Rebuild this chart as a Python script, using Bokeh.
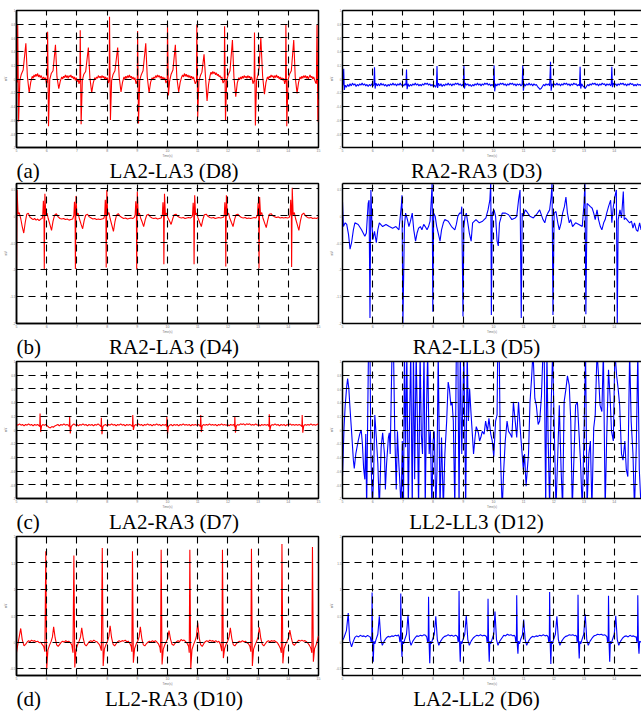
from bokeh.plotting import figure
from bokeh.layouts import column, row
from bokeh.models import Label, LinearAxis, Range1d, FixedTicker
from bokeh.embed import file_html
from bokeh.resources import INLINE

# ---------------- axis ticks ----------------
x_ticks = [5, 6, 7, 8, 9, 10, 11, 12, 13, 14, 15]
x_tick_labels = ["5", "6", "7", "8", "9", "10", "11", "12", "13", "14", "15"]
y_ticks_r1 = [-1, -0.8, -0.6, -0.4, -0.2, 0, 0.2, 0.4, 0.6, 0.8, 1]
y_tick_labels_r1 = ["-1", "-0.8", "-0.6", "-0.4", "-0.2", "0", "0.2", "0.4", "0.6", "0.8", "1"]
y_ticks_r2 = [-2, -1.5, -1, -0.5, 0, 0.5]
y_tick_labels_r2 = ["-2", "-1.5", "-1", "-0.5", "0", "0.5"]
y_ticks_r4 = [-0.5, 0, 0.5, 1, 1.5, 2]
y_tick_labels_r4 = ["-0.5", "0", "0.5", "1", "1.5", "2"]
y_range_r1 = (-1, 1)
y_range_r2 = (-2, 0.6)
y_range_r3 = (-1, 1)
y_range_r4 = (-0.63, 2.0)

letters = ["(a)", "(b)", "(c)", "(d)"]
captions_left = ["LA2-LA3 (D8)", "RA2-LA3 (D4)", "LA2-RA3 (D7)", "LL2-RA3 (D10)"]
captions_right = ["RA2-RA3 (D3)", "RA2-LL3 (D5)", "LL2-LL3 (D12)", "LA2-LL2 (D6)"]

# ---------------- signals: (time s, mV) ----------------
d8 = [(5.00, 0.03), (5.02, -0.05), (5.04, 0.79), (5.07, -0.62), (5.11, -0.02), (5.16, 0.07), (5.22, 0.13), (5.31, 0.52), (5.36, 0.04), (5.42, -0.20), (5.47, -0.05), (5.52, 0.04), (5.55, 0.01), (5.58, 0.06), (5.61, 0.03), (5.64, 0.07), (5.67, 0.04), (5.70, 0.08), (5.73, 0.03), (5.76, 0.06), (5.79, 0.02), (5.82, 0.05), (5.86, 0.00), (5.90, 0.03), (5.93, -0.01), (5.96, 0.02),
      (5.99, -0.07), (6.02, -0.03), (6.03, 0.69), (6.06, -0.69), (6.10, -0.01), (6.15, 0.08), (6.21, 0.12), (6.29, 0.50), (6.34, 0.03), (6.40, -0.14), (6.45, -0.03), (6.50, 0.03), (6.53, 0.00), (6.56, 0.04), (6.59, 0.02), (6.62, 0.06), (6.65, 0.02), (6.68, 0.05), (6.71, 0.01), (6.74, 0.05), (6.77, 0.03), (6.80, 0.06), (6.83, 0.02), (6.86, 0.04), (6.89, 0.00), (6.92, 0.03), (6.95, -0.02), (6.98, 0.02), (7.01, -0.04), (7.04, 0.00),
      (7.07, -0.07), (7.10, -0.02), (7.11, 0.71), (7.14, -0.66), (7.18, -0.02), (7.23, 0.07), (7.29, 0.11), (7.38, 0.46), (7.43, 0.02), (7.49, -0.20), (7.54, -0.06), (7.59, 0.02), (7.62, -0.01), (7.65, 0.03), (7.68, 0.01), (7.71, 0.05), (7.74, 0.02), (7.77, 0.04), (7.80, 0.01), (7.83, 0.05), (7.86, 0.02), (7.89, 0.04), (7.92, 0.00), (7.95, 0.03), (7.98, -0.01), (8.01, 0.02),
      (8.04, -0.06), (8.07, -0.02), (8.08, 0.91), (8.11, -0.60), (8.15, -0.02), (8.20, 0.07), (8.26, 0.12), (8.35, 0.46), (8.40, 0.03), (8.46, -0.19), (8.51, -0.05), (8.56, 0.03), (8.59, 0.00), (8.62, 0.04), (8.65, 0.01), (8.68, 0.05), (8.71, 0.02), (8.74, 0.06), (8.77, 0.02), (8.80, 0.04), (8.83, 0.00), (8.86, 0.03), (8.89, -0.01), (8.92, 0.02),
      (8.96, -0.07), (9.00, -0.02), (9.01, 0.70), (9.04, -0.65), (9.08, -0.02), (9.13, 0.06), (9.19, 0.12), (9.28, 0.52), (9.33, 0.03), (9.39, -0.20), (9.44, -0.05), (9.49, 0.02), (9.52, -0.01), (9.55, 0.03), (9.58, 0.01), (9.61, 0.05), (9.64, 0.02), (9.67, 0.06), (9.70, 0.03), (9.73, 0.05), (9.76, 0.01), (9.79, 0.04), (9.82, 0.00), (9.85, 0.03), (9.88, -0.01), (9.91, 0.02),
      (9.95, -0.06), (9.99, -0.02), (10.00, 0.79), (10.03, -0.24), (10.07, -0.03), (10.12, 0.07), (10.18, 0.13), (10.26, 0.50), (10.31, 0.02), (10.37, -0.19), (10.42, -0.05), (10.47, 0.03), (10.50, 0.06), (10.53, 0.03), (10.56, 0.08), (10.59, 0.04), (10.62, 0.07), (10.65, 0.03), (10.68, 0.06), (10.71, 0.02), (10.74, 0.05), (10.77, 0.01), (10.80, 0.04), (10.83, 0.00), (10.86, 0.03), (10.89, -0.02),
      (10.92, -0.07), (10.96, -0.03), (10.97, 0.79), (11.00, -0.56), (11.04, -0.03), (11.09, 0.05), (11.14, 0.10), (11.21, 0.36), (11.26, 0.02), (11.31, -0.32), (11.36, -0.08), (11.41, 0.05), (11.44, 0.10), (11.47, 0.07), (11.50, 0.11), (11.53, 0.08), (11.56, 0.10), (11.59, 0.06), (11.62, 0.09), (11.65, 0.05), (11.68, 0.07), (11.71, 0.03), (11.74, 0.05), (11.77, 0.01), (11.80, 0.03),
      (11.84, -0.06), (11.88, -0.02), (11.89, 0.77), (11.92, -0.61), (11.96, -0.02), (12.01, 0.06), (12.07, 0.12), (12.15, 0.57), (12.20, 0.03), (12.26, -0.26), (12.31, -0.06), (12.36, 0.02), (12.39, -0.01), (12.42, 0.03), (12.45, 0.00), (12.48, 0.04), (12.51, 0.01), (12.54, 0.05), (12.57, 0.02), (12.60, 0.04), (12.63, 0.01), (12.66, 0.05), (12.69, 0.02), (12.72, 0.04), (12.75, 0.00), (12.78, 0.03), (12.81, -0.01),
      (12.83, -0.07), (12.87, -0.02), (12.88, 0.68), (12.91, -0.68), (12.95, -0.02), (13.00, 0.07), (13.03, 0.15), (13.09, 0.60), (13.15, 0.04), (13.21, -0.22), (13.26, -0.05), (13.31, 0.03), (13.34, 0.00), (13.37, 0.04), (13.40, 0.02), (13.43, 0.06), (13.46, 0.03), (13.49, 0.05), (13.52, 0.01), (13.55, 0.05), (13.58, 0.02), (13.61, 0.06), (13.64, 0.02), (13.67, 0.04), (13.70, 0.00), (13.73, 0.03), (13.76, -0.01), (13.79, 0.02), (13.82, -0.02), (13.85, 0.01),
      (13.88, -0.07), (13.91, -0.02), (13.92, 0.80), (13.95, -0.69), (13.99, -0.02), (14.04, 0.07), (14.10, 0.12), (14.18, 0.57), (14.23, 0.03), (14.29, -0.21), (14.34, -0.05), (14.39, 0.03), (14.42, 0.00), (14.45, 0.04), (14.48, 0.01), (14.51, 0.05), (14.54, 0.02), (14.57, 0.05), (14.60, 0.01), (14.63, 0.04), (14.66, 0.00), (14.69, 0.03), (14.72, 0.06), (14.75, 0.02), (14.78, 0.04), (14.81, 0.00), (14.84, 0.03), (14.87, -0.01), (14.90, -0.05),
      (14.93, -0.07), (14.95, 0.79), (14.98, -0.62), (15.00, -0.30)]

d3 = [(5.00, -0.10), (5.02, -0.07), (5.04, 0.15), (5.06, -0.16), (5.09, -0.09), (5.13, -0.12), (5.17, -0.08), (5.21, -0.11), (5.25, -0.07), (5.29, -0.10), (5.33, -0.06), (5.37, -0.09), (5.41, -0.07), (5.45, -0.11), (5.49, -0.08), (5.53, -0.10), (5.57, -0.07), (5.61, -0.09), (5.65, -0.06), (5.69, -0.09), (5.73, -0.07), (5.77, -0.10), (5.81, -0.08), (5.85, -0.11), (5.89, -0.08), (5.93, -0.10), (5.97, -0.07), (6.01, -0.10), (6.04, -0.08),
      (6.06, 0.17), (6.08, -0.14), (6.11, -0.06), (6.15, -0.10), (6.19, -0.07), (6.23, -0.10), (6.27, -0.06), (6.31, -0.09), (6.35, -0.07), (6.39, -0.10), (6.43, -0.08), (6.47, -0.11), (6.51, -0.08), (6.55, -0.10), (6.59, -0.07), (6.63, -0.09), (6.67, -0.06), (6.71, -0.09), (6.75, -0.07), (6.79, -0.10), (6.83, -0.07), (6.87, -0.09), (6.91, -0.06), (6.95, -0.09), (6.99, -0.08), (7.03, -0.10), (7.07, -0.07), (7.10, -0.09),
      (7.12, 0.14), (7.14, -0.15), (7.17, -0.07), (7.21, -0.11), (7.25, -0.08), (7.29, -0.10), (7.33, -0.07), (7.37, -0.09), (7.41, -0.06), (7.45, -0.09), (7.49, -0.07), (7.53, -0.10), (7.57, -0.08), (7.61, -0.10), (7.65, -0.07), (7.69, -0.09), (7.73, -0.06), (7.77, -0.08), (7.81, -0.06), (7.85, -0.09), (7.89, -0.07), (7.93, -0.10), (7.97, -0.08), (8.01, -0.11), (8.05, -0.09), (8.08, -0.12), (8.11, -0.09),
      (8.13, 0.19), (8.15, -0.13), (8.18, -0.06), (8.22, -0.10), (8.26, -0.07), (8.30, -0.11), (8.34, -0.08), (8.38, -0.10), (8.42, -0.07), (8.46, -0.09), (8.50, -0.06), (8.54, -0.09), (8.58, -0.07), (8.62, -0.10), (8.66, -0.07), (8.70, -0.09), (8.74, -0.06), (8.78, -0.08), (8.82, -0.06), (8.86, -0.09), (8.90, -0.07), (8.94, -0.10), (8.98, -0.08), (9.00, -0.10),
      (9.02, 0.19), (9.04, -0.14), (9.07, -0.06), (9.11, -0.09), (9.15, -0.07), (9.19, -0.10), (9.23, -0.08), (9.27, -0.11), (9.31, -0.08), (9.35, -0.10), (9.39, -0.07), (9.43, -0.09), (9.47, -0.06), (9.51, -0.09), (9.55, -0.07), (9.59, -0.10), (9.63, -0.07), (9.67, -0.09), (9.71, -0.06), (9.75, -0.08), (9.79, -0.06), (9.83, -0.09), (9.87, -0.07), (9.91, -0.10), (9.95, -0.08), (10.00, -0.10),
      (10.02, 0.20), (10.04, -0.18), (10.07, -0.07), (10.11, -0.10), (10.15, -0.07), (10.19, -0.09), (10.23, -0.06), (10.27, -0.08), (10.31, -0.06), (10.35, -0.09), (10.39, -0.07), (10.43, -0.10), (10.47, -0.07), (10.51, -0.09), (10.55, -0.06), (10.59, -0.08), (10.63, -0.06), (10.67, -0.09), (10.71, -0.07), (10.75, -0.10), (10.79, -0.07), (10.83, -0.09), (10.87, -0.07), (10.91, -0.10), (10.95, -0.08),
      (10.97, 0.20), (10.99, -0.17), (11.02, -0.07), (11.06, -0.10), (11.10, -0.07), (11.14, -0.09), (11.18, -0.06), (11.22, -0.09), (11.26, -0.07), (11.30, -0.10), (11.34, -0.07), (11.38, -0.09), (11.42, -0.08), (11.46, -0.11), (11.50, -0.13), (11.54, -0.15), (11.58, -0.14), (11.62, -0.11), (11.66, -0.08), (11.70, -0.10), (11.74, -0.07), (11.78, -0.09), (11.82, -0.07), (11.86, -0.10),
      (11.89, 0.25), (11.91, -0.17), (11.94, -0.07), (11.98, -0.10), (12.02, -0.07), (12.06, -0.09), (12.10, -0.06), (12.14, -0.09), (12.18, -0.07), (12.22, -0.10), (12.26, -0.07), (12.30, -0.09), (12.34, -0.06), (12.38, -0.08), (12.42, -0.06), (12.46, -0.09), (12.50, -0.07), (12.54, -0.10), (12.58, -0.07), (12.62, -0.09), (12.66, -0.06), (12.70, -0.08), (12.74, -0.07), (12.78, -0.10), (12.82, -0.08), (12.85, -0.10),
      (12.87, 0.18), (12.89, -0.14), (12.92, -0.07), (12.96, -0.10), (13.00, -0.12), (13.04, -0.14), (13.08, -0.11), (13.12, -0.08), (13.16, -0.10), (13.20, -0.07), (13.24, -0.09), (13.28, -0.06), (13.32, -0.08), (13.36, -0.06), (13.40, -0.09), (13.44, -0.07), (13.48, -0.10), (13.52, -0.07), (13.56, -0.09), (13.60, -0.06), (13.64, -0.08), (13.68, -0.07), (13.72, -0.10), (13.76, -0.07), (13.80, -0.09), (13.84, -0.07), (13.88, -0.10), (13.90, -0.08),
      (13.92, 0.18), (13.94, -0.12), (13.97, -0.06), (14.01, -0.09), (14.05, -0.07), (14.09, -0.10), (14.13, -0.07), (14.17, -0.09), (14.21, -0.06), (14.25, -0.08), (14.29, -0.06), (14.33, -0.09), (14.37, -0.07), (14.41, -0.10), (14.45, -0.07), (14.49, -0.09), (14.53, -0.06), (14.57, -0.08), (14.61, -0.07), (14.65, -0.10), (14.69, -0.08), (14.73, -0.10), (14.77, -0.07), (14.81, -0.09), (14.85, -0.08), (14.90, -0.10)]

d4 = [(5.00, -1.00), (5.02, 0.48), (5.05, 0.03), (5.09, 0.06), (5.14, -0.05), (5.19, -0.20), (5.24, -0.32), (5.29, -0.12), (5.34, 0.03), (5.39, 0.05), (5.45, -0.03), (5.50, -0.05), (5.55, -0.07), (5.60, -0.05), (5.65, -0.08), (5.70, -0.06), (5.75, -0.09), (5.80, -0.06), (5.85, -0.05),
      (5.87, 0.02), (5.89, 0.28), (5.91, 0.08), (5.92, -0.99), (5.94, 0.41), (5.97, 0.01), (6.01, 0.05), (6.05, -0.05), (6.11, -0.17), (6.16, -0.27), (6.21, -0.10), (6.26, 0.01), (6.32, 0.04), (6.38, -0.02), (6.44, -0.05), (6.50, -0.06), (6.56, -0.05), (6.62, -0.07), (6.68, -0.06), (6.74, -0.08), (6.80, -0.07), (6.86, -0.06),
      (6.90, 0.01), (6.92, 0.26), (6.94, 0.06), (6.95, -0.99), (6.97, 0.37), (7.00, 0.01), (7.04, 0.05), (7.08, -0.05), (7.14, -0.16), (7.19, -0.24), (7.24, -0.09), (7.29, 0.01), (7.35, 0.03), (7.41, -0.02), (7.47, -0.04), (7.53, -0.06), (7.59, -0.05), (7.65, -0.07), (7.71, -0.06), (7.77, -0.07), (7.83, -0.06), (7.89, -0.05),
      (7.92, 0.01), (7.94, 0.30), (7.96, 0.08), (7.97, -0.96), (7.99, 0.48), (8.02, 0.02), (8.06, 0.06), (8.10, -0.05), (8.16, -0.18), (8.21, -0.29), (8.26, -0.11), (8.31, 0.01), (8.37, 0.04), (8.43, -0.01), (8.49, -0.03), (8.55, -0.05), (8.61, -0.04), (8.67, -0.06), (8.73, -0.05), (8.79, -0.04), (8.85, -0.05), (8.90, -0.03),
      (8.93, 0.02), (8.95, 0.27), (8.97, 0.07), (8.98, -0.99), (9.00, 0.45), (9.03, 0.02), (9.07, 0.05), (9.11, -0.04), (9.17, -0.13), (9.21, -0.20), (9.26, -0.08), (9.31, 0.01), (9.37, 0.03), (9.43, -0.02), (9.49, -0.04), (9.55, -0.05), (9.61, -0.04), (9.67, -0.06), (9.73, -0.05), (9.79, -0.04),
      (9.83, 0.02), (9.85, 0.25), (9.87, 0.06), (9.88, -0.90), (9.90, 0.41), (9.93, 0.02), (9.97, 0.05), (10.01, -0.03), (10.07, -0.10), (10.12, -0.16), (10.17, -0.06), (10.22, 0.02), (10.28, 0.03), (10.34, -0.01), (10.40, -0.03), (10.46, -0.04), (10.52, -0.03), (10.58, -0.05), (10.64, -0.04), (10.70, -0.03), (10.76, -0.04), (10.81, -0.02),
      (10.83, 0.02), (10.85, 0.24), (10.87, 0.06), (10.88, -0.90), (10.90, 0.38), (10.93, 0.02), (10.97, 0.05), (11.01, -0.04), (11.07, -0.13), (11.12, -0.20), (11.17, -0.07), (11.22, 0.02), (11.28, 0.03), (11.34, -0.01), (11.40, -0.03), (11.46, -0.04), (11.52, -0.03), (11.58, -0.05), (11.64, -0.04), (11.70, -0.03), (11.76, -0.04), (11.82, -0.03), (11.86, -0.02),
      (11.88, 0.02), (11.90, 0.25), (11.92, 0.06), (11.93, -0.94), (11.95, 0.38), (11.98, 0.02), (12.02, 0.05), (12.06, -0.04), (12.12, -0.13), (12.17, -0.20), (12.22, -0.07), (12.27, 0.02), (12.33, 0.03), (12.39, -0.01), (12.45, -0.03), (12.51, -0.04), (12.57, -0.03), (12.63, -0.05), (12.69, -0.04), (12.75, -0.05), (12.81, -0.04), (12.87, -0.03), (12.93, -0.04),
      (12.98, 0.02), (13.00, 0.24), (13.02, 0.06), (13.03, -0.98), (13.05, 0.35), (13.08, 0.02), (13.12, 0.06), (13.16, -0.04), (13.22, -0.14), (13.27, -0.22), (13.32, -0.08), (13.37, 0.03), (13.43, 0.04), (13.49, 0.00), (13.55, -0.02), (13.61, -0.03), (13.67, -0.02), (13.73, -0.04), (13.79, -0.03), (13.85, -0.04), (13.91, -0.03), (13.97, -0.04), (14.03, -0.03),
      (14.06, 0.02), (14.08, 0.30), (14.10, 0.08), (14.11, -0.95), (14.13, 0.52), (14.16, 0.02), (14.20, 0.06), (14.24, -0.05), (14.30, -0.17), (14.35, -0.27), (14.40, -0.10), (14.45, 0.02), (14.51, 0.05), (14.57, 0.00), (14.63, -0.03), (14.69, -0.04), (14.75, -0.03), (14.81, -0.05), (14.87, -0.04), (14.93, -0.05), (15.00, -0.03)]

d5 = [(5.00, 0.26), (5.03, -0.20), (5.09, -0.13), (5.14, -0.16), (5.20, -0.35), (5.25, -0.62), (5.30, -0.50), (5.36, -0.26), (5.41, -0.13), (5.52, -0.16), (5.63, -0.26), (5.74, -0.38), (5.79, -0.32), (5.85, 0.23), (5.88, 0.29), (5.91, -1.90), (5.94, 0.48), (5.98, -0.20), (6.01, -0.44), (6.06, -0.29), (6.12, -0.50), (6.17, -0.26), (6.22, -0.13), (6.33, -0.20), (6.44, -0.16), (6.55, -0.20), (6.66, -0.23), (6.77, -0.20), (6.87, -0.26), (6.95, 0.20), (6.97, 0.38), (7.00, -2.05),
      (7.05, -0.20), (7.09, 0.05), (7.15, -0.07), (7.20, -0.20), (7.25, -0.10), (7.31, 0.05), (7.36, -0.26), (7.42, -0.47), (7.47, -0.32), (7.52, -0.23), (7.58, -0.20), (7.63, -0.26), (7.69, -0.16), (7.74, -0.20), (7.80, -0.26), (7.85, -0.20), (7.90, -0.10), (7.94, 0.29), (7.97, 0.62), (7.99, -1.78),
      (8.02, 0.05), (8.07, -0.01), (8.12, -0.20), (8.17, -0.32), (8.23, -0.47), (8.28, -0.26), (8.34, -0.13), (8.39, -0.07), (8.50, -0.10), (8.61, -0.20), (8.72, -0.26), (8.77, -0.16), (8.82, -0.01), (8.88, 0.05), (8.93, 0.05), (8.95, 0.17), (8.99, -1.87),
      (9.02, -0.20), (9.06, -0.01), (9.10, 0.05), (9.15, -0.13), (9.20, -0.32), (9.26, -0.47), (9.31, -0.13), (9.42, -0.07), (9.53, -0.13), (9.64, -0.10), (9.75, -0.04), (9.82, 0.11), (9.88, 0.29), (9.91, 0.62), (9.93, -1.84),
      (9.96, 0.05), (10.02, 0.11), (10.07, -0.01), (10.12, -0.47), (10.16, -0.56), (10.20, -0.13), (10.29, 0.05), (10.40, 0.05), (10.50, 0.02), (10.61, -0.07), (10.72, -0.04), (10.77, -0.01), (10.83, 0.29), (10.88, 0.48), (10.92, -1.90),
      (10.95, 0.05), (10.99, -0.01), (11.05, 0.11), (11.10, 0.08), (11.21, -0.01), (11.32, -0.04), (11.42, 0.02), (11.53, 0.11), (11.64, -0.07), (11.70, -0.13), (11.75, -0.01), (11.80, 0.05), (11.86, 0.11), (11.91, 0.35), (11.94, 0.62), (11.97, -1.84),
      (12.01, 0.05), (12.07, 0.08), (12.13, -0.13), (12.18, -0.26), (12.24, -0.13), (12.29, 0.05), (12.35, 0.17), (12.40, 0.35), (12.45, 0.05), (12.51, -0.13), (12.56, -0.07), (12.62, -0.20), (12.72, -0.13), (12.83, -0.16), (12.94, -0.20), (13.00, 0.23), (13.03, 0.65), (13.06, -1.83),
      (13.10, 0.23), (13.16, 0.20), (13.21, 0.17), (13.27, 0.14), (13.32, 0.05), (13.37, -0.07), (13.43, 0.11), (13.48, -0.07), (13.54, -0.20), (13.59, -0.26), (13.65, -0.13), (13.70, -0.07), (13.75, 0.05), (13.81, 0.17), (13.88, 0.29), (13.92, -0.13), (13.97, 0.17), (14.02, 0.35), (14.07, 0.48), (14.10, -2.05),
      (14.13, -0.07), (14.19, 0.11), (14.24, -0.04), (14.30, 0.45), (14.33, -0.07), (14.37, -0.04), (14.46, -0.10), (14.51, -0.13), (14.57, -0.10), (14.62, -0.23), (14.67, -0.13), (14.73, -0.26), (14.78, -0.29), (14.84, -0.13), (14.89, -0.26), (14.95, -0.20)]

d7 = [(5.00, 0.08), (5.05, 0.07), (5.10, 0.09), (5.15, 0.07), (5.20, 0.08), (5.25, 0.06), (5.30, 0.08), (5.35, 0.07), (5.40, 0.09), (5.45, 0.07), (5.50, 0.08), (5.55, 0.06), (5.60, 0.08), (5.65, 0.07), (5.70, 0.08), (5.75, 0.06),
      (5.77, 0.05), (5.78, 0.24), (5.80, -0.03), (5.83, 0.06), (5.87, 0.08), (5.92, 0.07), (5.97, 0.08), (6.02, 0.06), (6.07, 0.04), (6.12, 0.03), (6.17, 0.05), (6.22, 0.04), (6.27, 0.06), (6.32, 0.07), (6.37, 0.08), (6.42, 0.06), (6.47, 0.08), (6.52, 0.07), (6.57, 0.09), (6.62, 0.07), (6.67, 0.08), (6.72, 0.07),
      (6.75, 0.05), (6.76, 0.19), (6.78, -0.05), (6.81, 0.05), (6.85, 0.07), (6.90, 0.09), (6.95, 0.07), (7.00, 0.08), (7.05, 0.06), (7.10, 0.08), (7.15, 0.07), (7.20, 0.09), (7.25, 0.07), (7.30, 0.08), (7.35, 0.06), (7.40, 0.08), (7.45, 0.07), (7.50, 0.08), (7.55, 0.06), (7.60, 0.08), (7.65, 0.07), (7.70, 0.09), (7.75, 0.07),
      (7.80, 0.05), (7.81, 0.18), (7.83, -0.06), (7.86, 0.05), (7.90, 0.07), (7.95, 0.08), (8.00, 0.06), (8.05, 0.08), (8.10, 0.07), (8.15, 0.09), (8.20, 0.07), (8.25, 0.08), (8.30, 0.06), (8.35, 0.08), (8.40, 0.07), (8.45, 0.09), (8.50, 0.07), (8.55, 0.08), (8.60, 0.06), (8.65, 0.08), (8.70, 0.07), (8.75, 0.08), (8.80, 0.07),
      (8.84, 0.05), (8.85, 0.22), (8.87, 0.00), (8.90, 0.06), (8.94, 0.08), (8.99, 0.07), (9.04, 0.09), (9.09, 0.07), (9.14, 0.08), (9.19, 0.06), (9.24, 0.08), (9.29, 0.07), (9.34, 0.09), (9.39, 0.07), (9.44, 0.08), (9.49, 0.06), (9.54, 0.08), (9.59, 0.07), (9.64, 0.09), (9.69, 0.07), (9.74, 0.08), (9.79, 0.06), (9.84, 0.08), (9.89, 0.07), (9.94, 0.08),
      (9.97, 0.05), (9.98, 0.19), (10.00, -0.06), (10.03, 0.05), (10.07, 0.07), (10.12, 0.08), (10.17, 0.06), (10.22, 0.08), (10.27, 0.07), (10.32, 0.08), (10.37, 0.06), (10.42, 0.08), (10.47, 0.07), (10.52, 0.09), (10.57, 0.07), (10.62, 0.08), (10.67, 0.07), (10.72, 0.08), (10.77, 0.06), (10.82, 0.08), (10.87, 0.07), (10.92, 0.08), (10.97, 0.07), (11.02, 0.08), (11.06, 0.07),
      (11.09, 0.05), (11.10, 0.22), (11.12, -0.03), (11.15, 0.06), (11.19, 0.08), (11.24, 0.07), (11.29, 0.08), (11.34, 0.07), (11.39, 0.09), (11.44, 0.07), (11.49, 0.08), (11.54, 0.07), (11.59, 0.08), (11.64, 0.06), (11.69, 0.08), (11.74, 0.07), (11.79, 0.09), (11.84, 0.07), (11.89, 0.08), (11.94, 0.07), (11.99, 0.08), (12.04, 0.06), (12.09, 0.08), (12.14, 0.07), (12.19, 0.08),
      (12.22, 0.05), (12.23, 0.19), (12.25, -0.04), (12.28, 0.06), (12.32, 0.08), (12.37, 0.07), (12.42, 0.09), (12.47, 0.08), (12.52, 0.09), (12.57, 0.07), (12.62, 0.09), (12.67, 0.08), (12.72, 0.09), (12.77, 0.07), (12.82, 0.08), (12.87, 0.07), (12.92, 0.09), (12.97, 0.07), (13.02, 0.08), (13.07, 0.06), (13.12, 0.08), (13.17, 0.07), (13.22, 0.08), (13.27, 0.07), (13.32, 0.08),
      (13.36, 0.05), (13.37, 0.23), (13.39, -0.01), (13.42, 0.06), (13.46, 0.08), (13.51, 0.07), (13.56, 0.09), (13.61, 0.07), (13.66, 0.08), (13.71, 0.06), (13.76, 0.08), (13.81, 0.07), (13.86, 0.08), (13.91, 0.06), (13.96, 0.08), (14.01, 0.07), (14.06, 0.09), (14.11, 0.07), (14.16, 0.08), (14.21, 0.07), (14.26, 0.08), (14.31, 0.07), (14.36, 0.08), (14.41, 0.07),
      (14.45, 0.05), (14.46, 0.22), (14.48, -0.04), (14.51, 0.06), (14.55, 0.08), (14.60, 0.07), (14.65, 0.08), (14.70, 0.07), (14.75, 0.09), (14.80, 0.07), (14.85, 0.08), (14.90, 0.07), (14.95, 0.08), (15.00, 0.09)]

d12 = [(5.00, -0.68), (5.05, 0.03), (5.09, 0.36), (5.14, 0.64), (5.17, 0.75), (5.21, 0.60), (5.25, 0.31), (5.30, -0.02), (5.36, -0.44), (5.39, -0.56), (5.44, -0.35), (5.52, -0.16), (5.57, -0.06), (5.62, 0.00), (5.66, -0.21), (5.70, -0.56), (5.74, -0.72), (5.77, -0.06), (5.80, -1.15), (5.86, 1.15), (5.91, 1.15), (5.94, -0.35), (5.99, -1.15),
       (6.03, -0.68), (6.07, 0.22), (6.12, -0.11), (6.17, -0.49), (6.22, -1.15), (6.28, -0.25), (6.33, -0.04), (6.39, -0.35), (6.42, -0.87), (6.46, -0.49), (6.52, -0.11), (6.55, -0.04), (6.58, -0.35), (6.64, 1.15), (6.69, 1.15), (6.73, -0.02), (6.78, -0.87), (6.82, -0.02), (6.85, -0.35), (6.90, -0.77), (6.94, -1.15), (6.98, -0.16),
       (7.02, -1.15), (7.05, 1.15), (7.09, -0.25), (7.13, 1.15), (7.18, -1.15), (7.22, 0.13), (7.26, 1.15), (7.31, -1.15), (7.35, 1.15), (7.39, -0.72), (7.44, 1.15), (7.48, 0.13), (7.52, -1.15), (7.57, 1.15), (7.61, -0.06), (7.65, -0.35), (7.70, 1.15), (7.74, -1.15), (7.78, 0.22), (7.82, 1.15), (7.87, -0.35), (7.91, -0.02), (7.96, -1.15),
       (8.00, -0.16), (8.04, -0.02), (8.09, -1.15), (8.13, -0.58), (8.17, 1.15), (8.23, -1.15), (8.28, -0.11), (8.34, -1.15), (8.39, -0.35), (8.45, 0.13), (8.50, 0.70), (8.54, 0.60), (8.59, 0.36), (8.63, 0.41), (8.67, 0.13), (8.72, -1.15), (8.77, 1.15), (8.82, 1.15), (8.86, -1.15), (8.90, 1.15), (8.95, -0.35),
       (9.02, 1.15), (9.08, -1.15), (9.13, 1.15), (9.17, 0.13), (9.21, 0.60), (9.26, 0.22), (9.30, -0.06), (9.34, -0.35), (9.39, -0.11), (9.43, 0.05), (9.50, -0.04), (9.54, -0.16), (9.58, -0.11), (9.63, -0.02), (9.69, -0.06), (9.74, 0.13), (9.80, -0.02), (9.85, 0.17), (9.91, -0.06), (9.96, -0.16),
       (10.01, -0.39), (10.07, 0.13), (10.12, 0.22), (10.14, 1.15), (10.19, 1.15), (10.23, -0.35), (10.29, -1.15), (10.34, -0.58), (10.39, -0.16), (10.45, 0.13), (10.50, -0.02), (10.56, -0.06), (10.61, -0.11), (10.66, 0.41), (10.72, 0.13), (10.77, -0.11), (10.83, 0.41), (10.88, 0.05), (10.94, -0.30), (10.99, -0.58),
       (11.03, -0.35), (11.08, -0.82), (11.12, -0.58), (11.16, -0.35), (11.21, 0.41), (11.26, 0.74), (11.31, 1.15), (11.37, 0.46), (11.42, 0.36), (11.48, 0.08), (11.53, 0.13), (11.59, 0.50), (11.64, 1.15), (11.68, 1.15), (11.73, -1.15), (11.77, 1.15), (11.81, -0.11), (11.86, -1.15), (11.91, 0.36), (11.96, 1.15),
       (12.02, -0.11), (12.07, -1.15), (12.13, -0.35), (12.18, 0.36), (12.24, -0.58), (12.29, -1.15), (12.34, 0.41), (12.40, 0.60), (12.45, 0.79), (12.51, 0.65), (12.56, 0.13), (12.61, -1.15), (12.67, -0.35), (12.72, 0.36), (12.78, 0.41), (12.83, -0.02), (12.88, -0.44), (12.94, -1.15), (12.99, -0.25),
       (13.05, 1.15), (13.10, -1.15), (13.16, -0.35), (13.21, -0.16), (13.26, -1.15), (13.32, 0.03), (13.37, 0.22), (13.43, 1.15), (13.48, 0.79), (13.53, 0.36), (13.59, 0.27), (13.64, 1.15), (13.70, -1.15), (13.75, -0.11), (13.81, 0.88), (13.86, 0.50), (13.91, -0.02), (13.97, -0.16),
       (14.02, 1.15), (14.08, 0.79), (14.13, 0.60), (14.18, 0.36), (14.24, -0.35), (14.29, -0.44), (14.35, -0.16), (14.40, -0.58), (14.45, -0.68), (14.51, 1.15), (14.56, 0.13), (14.62, -0.35), (14.67, -1.15), (14.73, -0.25), (14.78, 1.15), (14.83, -0.58), (14.89, -1.15)]

d10 = [(5.00, -0.20), (5.04, -0.05), (5.09, 0.10), (5.14, 0.26), (5.19, 0.05), (5.25, -0.07), (5.30, -0.04), (5.35, 0.00), (5.40, 0.03), (5.45, 0.01), (5.50, 0.04), (5.55, 0.02), (5.60, 0.03), (5.65, 0.01), (5.70, 0.02), (5.75, -0.01), (5.80, 0.00), (5.85, -0.04), (5.90, -0.08), (5.94, -0.18),
       (5.97, 1.72), (6.00, -0.51), (6.04, -0.15), (6.09, -0.06), (6.15, 0.02), (6.19, 0.10), (6.23, 0.29), (6.28, 0.08), (6.33, -0.05), (6.38, -0.08), (6.43, -0.04), (6.48, 0.00), (6.53, 0.02), (6.58, 0.00), (6.63, 0.03), (6.68, 0.01), (6.73, 0.02), (6.78, -0.01), (6.83, -0.05), (6.87, -0.20),
       (6.90, 1.64), (6.93, -0.48), (6.97, -0.14), (7.02, -0.05), (7.08, 0.03), (7.12, 0.10), (7.16, 0.27), (7.21, 0.07), (7.26, -0.04), (7.31, -0.07), (7.36, -0.03), (7.41, 0.01), (7.46, 0.03), (7.51, 0.01), (7.56, 0.04), (7.61, 0.02), (7.66, 0.01), (7.71, -0.02), (7.76, -0.06), (7.81, -0.16),
       (7.84, 1.78), (7.87, -0.45), (7.91, -0.13), (7.96, -0.05), (8.02, 0.03), (8.06, 0.11), (8.10, 0.31), (8.15, 0.08), (8.20, -0.04), (8.25, -0.07), (8.30, -0.03), (8.35, 0.01), (8.40, 0.03), (8.45, 0.01), (8.50, 0.03), (8.55, 0.02), (8.60, 0.04), (8.65, 0.01), (8.70, 0.02), (8.75, -0.02), (8.80, -0.08), (8.82, -0.18),
       (8.84, 1.72), (8.87, -0.39), (8.91, -0.12), (8.96, -0.04), (9.02, 0.03), (9.06, 0.10), (9.10, 0.29), (9.15, 0.07), (9.20, -0.05), (9.25, -0.07), (9.30, -0.03), (9.35, 0.00), (9.40, 0.02), (9.45, 0.00), (9.50, 0.03), (9.55, 0.01), (9.60, 0.03), (9.65, 0.00), (9.70, -0.03), (9.75, -0.10), (9.77, -0.20),
       (9.79, 1.75), (9.82, -0.42), (9.86, -0.13), (9.91, -0.05), (9.97, 0.02), (10.01, 0.08), (10.05, 0.22), (10.10, 0.06), (10.15, -0.04), (10.20, -0.06), (10.25, -0.02), (10.30, 0.01), (10.35, 0.03), (10.40, 0.01), (10.45, 0.05), (10.50, 0.03), (10.55, 0.04), (10.60, 0.01), (10.65, -0.02), (10.70, -0.08), (10.72, -0.20),
       (10.74, 1.75), (10.77, -0.51), (10.81, -0.14), (10.86, -0.05), (10.92, 0.04), (10.96, 0.12), (11.00, 0.37), (11.05, 0.08), (11.10, -0.05), (11.15, -0.08), (11.20, -0.03), (11.25, 0.01), (11.30, 0.03), (11.35, 0.01), (11.40, 0.04), (11.45, 0.02), (11.50, 0.03), (11.55, 0.01), (11.60, 0.03), (11.65, 0.00), (11.70, 0.02), (11.75, -0.04), (11.80, -0.17),
       (11.82, 1.75), (11.85, -0.30), (11.89, -0.12), (11.94, -0.04), (12.00, 0.03), (12.04, 0.10), (12.08, 0.27), (12.13, 0.07), (12.18, -0.05), (12.23, -0.07), (12.28, -0.03), (12.33, 0.00), (12.38, 0.02), (12.43, 0.00), (12.48, 0.03), (12.53, 0.01), (12.58, 0.02), (12.63, -0.01), (12.68, -0.03), (12.73, -0.08), (12.76, -0.18),
       (12.78, 1.77), (12.81, -0.45), (12.85, -0.13), (12.90, -0.05), (12.96, 0.03), (13.00, 0.10), (13.04, 0.28), (13.09, 0.07), (13.14, -0.04), (13.19, -0.07), (13.24, -0.03), (13.29, 0.01), (13.34, 0.03), (13.39, 0.01), (13.44, 0.03), (13.49, 0.02), (13.54, 0.03), (13.59, 0.01), (13.64, -0.01), (13.69, -0.06), (13.74, -0.12), (13.77, -0.20),
       (13.79, 1.86), (13.82, -0.40), (13.86, -0.12), (13.91, -0.04), (13.97, 0.03), (14.01, 0.09), (14.05, 0.23), (14.10, 0.08), (14.15, -0.03), (14.20, -0.06), (14.25, -0.02), (14.30, 0.01), (14.35, 0.04), (14.40, 0.02), (14.45, 0.04), (14.50, 0.02), (14.55, 0.03), (14.60, 0.01), (14.65, -0.02), (14.70, -0.06), (14.75, -0.12), (14.78, -0.20),
       (14.80, 1.80), (14.83, -0.37), (14.87, -0.12), (14.92, -0.05), (14.97, 0.05), (15.00, 0.12)]

d6 = [(5.00, 0.03), (5.05, 0.09), (5.13, 0.22), (5.19, 0.55), (5.24, 0.03), (5.30, -0.09), (5.36, 0.02), (5.41, 0.09), (5.47, 0.12), (5.53, 0.10), (5.59, 0.13), (5.65, 0.11), (5.71, 0.12), (5.77, 0.10), (5.83, 0.13), (5.88, 0.11),
      (5.92, 0.10), (5.95, 0.00), (5.97, 0.05), (5.98, 0.94), (6.00, -0.05), (6.02, -0.37), (6.04, 0.02), (6.07, -0.03), (6.11, 0.05), (6.17, 0.15), (6.22, 0.49), (6.27, 0.05), (6.32, -0.06), (6.38, 0.02), (6.45, 0.08), (6.51, 0.11), (6.57, 0.10), (6.63, 0.12), (6.69, 0.11), (6.75, 0.13), (6.81, 0.12), (6.85, 0.14),
      (6.88, 0.10), (6.90, 0.00), (6.92, 0.05), (6.93, 0.92), (6.95, -0.05), (6.97, -0.28), (6.99, 0.02), (7.02, -0.03), (7.06, 0.05), (7.12, 0.15), (7.17, 0.52), (7.22, 0.05), (7.27, -0.06), (7.33, 0.02), (7.40, 0.08), (7.46, 0.12), (7.52, 0.11), (7.58, 0.13), (7.64, 0.12), (7.70, 0.14), (7.75, 0.13),
      (7.79, 0.10), (7.82, 0.00), (7.84, 0.05), (7.85, 0.86), (7.87, -0.05), (7.89, -0.40), (7.91, 0.02), (7.94, -0.03), (7.98, 0.05), (8.04, 0.15), (8.09, 0.49), (8.14, 0.05), (8.19, -0.06), (8.25, 0.02), (8.32, 0.08), (8.38, 0.11), (8.44, 0.12), (8.50, 0.14), (8.56, 0.12), (8.62, 0.13), (8.68, 0.11), (8.74, 0.13), (8.78, 0.12),
      (8.81, 0.10), (8.83, 0.00), (8.85, 0.05), (8.86, 0.97), (8.88, -0.05), (8.90, -0.37), (8.92, 0.02), (8.95, -0.03), (8.99, 0.05), (9.05, 0.15), (9.10, 0.51), (9.15, 0.05), (9.20, -0.06), (9.26, 0.02), (9.33, 0.08), (9.39, 0.11), (9.45, 0.13), (9.51, 0.12), (9.57, 0.14), (9.63, 0.12), (9.69, 0.13), (9.74, 0.12),
      (9.77, 0.10), (9.79, 0.00), (9.81, 0.05), (9.82, 0.82), (9.84, -0.05), (9.86, -0.37), (9.88, 0.02), (9.91, -0.03), (9.95, 0.05), (10.01, 0.15), (10.05, 0.58), (10.10, 0.05), (10.15, -0.06), (10.21, 0.02), (10.28, 0.08), (10.34, 0.13), (10.40, 0.12), (10.46, 0.15), (10.52, 0.13), (10.58, 0.14), (10.64, 0.12), (10.69, 0.13),
      (10.72, 0.10), (10.74, 0.00), (10.76, 0.05), (10.77, 0.89), (10.79, -0.05), (10.81, -0.22), (10.83, 0.02), (10.86, -0.03), (10.90, 0.05), (10.96, 0.14), (11.00, 0.43), (11.05, 0.05), (11.10, -0.06), (11.16, 0.02), (11.23, 0.08), (11.29, 0.11), (11.35, 0.10), (11.41, 0.12), (11.47, 0.11), (11.53, 0.13), (11.59, 0.12), (11.65, 0.14), (11.71, 0.12), (11.77, 0.13),
      (11.81, 0.10), (11.83, 0.00), (11.85, 0.05), (11.86, 0.95), (11.88, -0.05), (11.90, -0.41), (11.92, 0.02), (11.95, -0.03), (11.99, 0.05), (12.05, 0.15), (12.10, 0.49), (12.15, 0.05), (12.20, -0.06), (12.26, 0.02), (12.33, 0.08), (12.39, 0.11), (12.45, 0.12), (12.51, 0.14), (12.57, 0.13), (12.63, 0.14), (12.69, 0.12), (12.73, 0.13),
      (12.76, 0.10), (12.77, 0.00), (12.79, 0.05), (12.80, 0.90), (12.82, -0.05), (12.84, -0.31), (12.86, 0.02), (12.89, -0.03), (12.93, 0.05), (12.99, 0.15), (13.04, 0.53), (13.09, 0.05), (13.14, -0.06), (13.20, 0.02), (13.27, 0.08), (13.33, 0.12), (13.39, 0.13), (13.45, 0.15), (13.51, 0.14), (13.57, 0.15), (13.63, 0.13), (13.69, 0.14), (13.73, 0.12),
      (13.76, 0.10), (13.78, 0.00), (13.80, 0.05), (13.81, 0.88), (13.83, -0.05), (13.85, -0.37), (13.87, 0.02), (13.90, -0.03), (13.94, 0.05), (14.00, 0.15), (14.05, 0.50), (14.10, 0.05), (14.15, -0.06), (14.21, 0.02), (14.28, 0.08), (14.34, 0.11), (14.40, 0.12), (14.46, 0.10), (14.52, 0.13), (14.58, 0.11), (14.64, 0.12), (14.70, 0.10),
      (14.73, 0.10), (14.75, 0.00), (14.77, 0.05), (14.78, 0.89), (14.80, -0.05), (14.82, -0.22), (14.84, 0.02), (14.87, 0.00), (14.92, 0.03)]

RED = "#ff0000"
BLUE = "#0000ff"

# layout geometry (pixels); the page is drawn from its top-left corner
LEFT_W, RIGHT_W = 326, 315
# panel rows: canvas height, top border, bottom border
PANEL_ROWS = [(160, 10, 10), (154, 1, 10), (152, 2, 10), (154, 2, 9)]
# caption strips: height, text baseline above strip bottom
CAPTION_ROWS = [(22, 4), (23, 5), (23, 5), (23, 5)]
CAPTION_SIZE = 21
TEXT_FONT = "Liberation Serif"


def panel(data, color, yr, yt, ytl, ri, right):
    H, T, B = PANEL_ROWS[ri]
    W = RIGHT_W if right else LEFT_W
    mbl = 10 if right else 11
    mbr = 0 if right else 8
    x_end = 5 + (W - mbl - mbr) / 30.8 if right else 15
    p = figure(width=W, height=H, x_range=Range1d(5, x_end), y_range=Range1d(*yr),
               output_backend="svg", toolbar_location=None,
               min_border_left=mbl, min_border_right=mbr,
               min_border_top=T, min_border_bottom=B,
               background_fill_color="white", border_fill_color="white")
    t = [a for a, _ in data]
    v = [b for _, b in data]
    p.line(t, v, line_color=color, line_width=1.1)

    p.xaxis.ticker = FixedTicker(ticks=x_ticks)
    p.xaxis.major_label_overrides = dict(zip(x_ticks, x_tick_labels))
    p.yaxis.ticker = FixedTicker(ticks=yt)
    p.yaxis.major_label_overrides = dict(zip(yt, ytl))
    p.xgrid.ticker = FixedTicker(ticks=x_ticks)
    p.ygrid.ticker = FixedTicker(ticks=yt)
    for g in (p.xgrid, p.ygrid):
        g.grid_line_color = "black"
        g.grid_line_dash = "7 5"
        g.grid_line_width = 1.1
        g.level = "annotation"
    for ax in (p.xaxis, p.yaxis):
        ax.major_label_text_font = "Liberation Sans"
        ax.major_label_text_color = "#777777"
        ax.major_label_standoff = 1
        ax.major_tick_in = 3
        ax.major_tick_out = 0
        ax.major_tick_line_color = "black"
        ax.minor_tick_line_color = None
        ax.axis_line_color = "black"
        ax.axis_line_width = 1.5
        ax.axis_label_text_font_size = "3px"
        ax.axis_label_text_font_style = "normal"
        ax.axis_label_text_color = "#777777"
        ax.axis_label_standoff = 0
    p.xaxis.major_label_text_font_size = "3.5px"
    p.yaxis.major_label_text_font_size = "3px"
    p.xaxis.axis_label = "Time(s)"
    p.yaxis.axis_label = "mV"

    if right:
        # open on the right: frame drawn by the axes, top edge by an unlabelled axis
        p.outline_line_color = None
        top = LinearAxis(ticker=FixedTicker(ticks=[]), minor_tick_line_color=None,
                         axis_line_color="black", axis_line_width=1.5)
        p.add_layout(top, "above")
    else:
        p.outline_line_color = "black"
        p.outline_line_width = 1.5
    return p


def caption_strip(ri, right, letter, caption):
    h, base = CAPTION_ROWS[ri]
    W = RIGHT_W if right else LEFT_W
    c = figure(width=W, height=h, x_range=Range1d(0, W), y_range=Range1d(0, h),
               output_backend="svg", toolbar_location=None,
               x_axis_type=None, y_axis_type=None,
               min_border=0, outline_line_color=None,
               background_fill_color="white", border_fill_color="white")
    c.xgrid.visible = False
    c.ygrid.visible = False
    # anchor at the middle of the em box: ~0.34 em above the baseline
    ym = base + 0.34 * CAPTION_SIZE
    cx = 150 if right else 173.5
    c.add_layout(Label(x=cx, y=ym, text=caption, text_font=TEXT_FONT,
                       text_font_size=f"{CAPTION_SIZE}px", text_align="center",
                       text_baseline="middle", text_color="black"))
    if letter:
        c.add_layout(Label(x=16, y=ym, text=letter, text_font=TEXT_FONT,
                           text_font_size=f"{CAPTION_SIZE}px", text_align="left",
                           text_baseline="middle", text_color="black"))
    return c


specs = [
    (d8, d3, y_range_r1, y_ticks_r1, y_tick_labels_r1),
    (d4, d5, y_range_r2, y_ticks_r2, y_tick_labels_r2),
    (d7, d12, y_range_r3, y_ticks_r1, y_tick_labels_r1),
    (d10, d6, y_range_r4, y_ticks_r4, y_tick_labels_r4),
]
children = []
for i, (dl, dr, yr, yt, ytl) in enumerate(specs):
    children.append(row(panel(dl, RED, yr, yt, ytl, i, False),
                        panel(dr, BLUE, yr, yt, ytl, i, True)))
    children.append(row(caption_strip(i, False, letters[i], captions_left[i]),
                        caption_strip(i, True, None, captions_right[i])))
layout = column(*children)

open("out.html", "w").write(file_html(layout, INLINE))
